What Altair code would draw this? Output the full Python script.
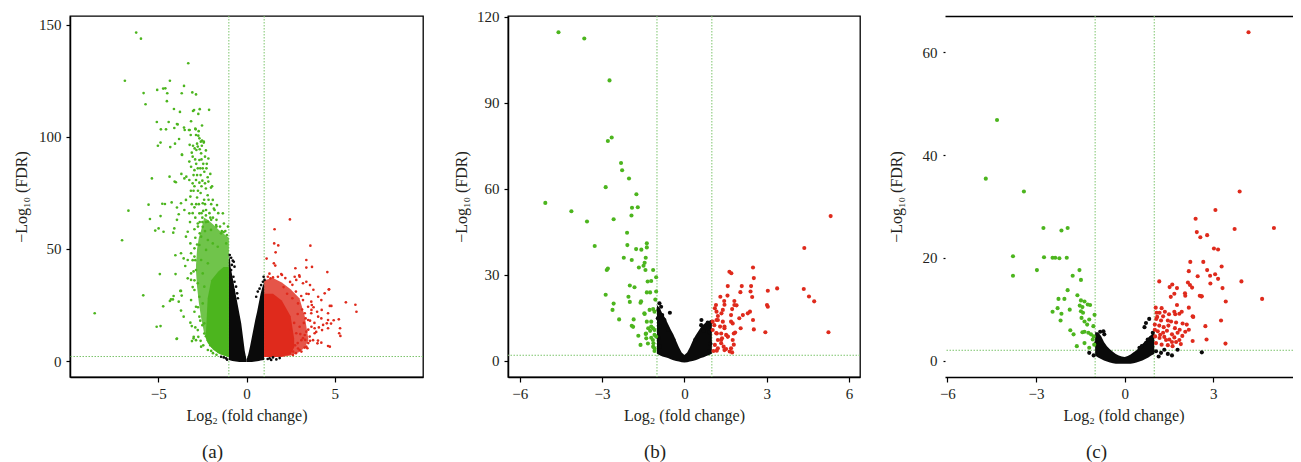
import altair as alt
import pandas as pd

FONT = "Liberation Serif"
GREEN, RED, BLACK = "#4cb51e", "#df2a1c", "#0a0a0a"
LINE = "#7cc46c"
TXT = "#231f20"

X_TITLE = "Log\u2082 (fold change)"
Y_TITLE = "\u2212Log\u2081\u2080 (FDR)"
VLINES = [-1, 1]
HLINE = [2]

# ---------------- panel (a) ----------------
A_DOWN = [(-6.25,146.6),(-5.98,143.9),(-3.30,132.9),(-6.89,125.1),(-4.34,125.1),(-3.54,122.8),(-5.06,121.0),(-4.72,121.6),(-4.60,121.7),(-5.83,119.6),(-3.07,119.9),(-2.86,119.0),(-4.49,119.5),(-3.67,119.5),(-4.51,116.0),(-5.72,114.6),(-2.65,112.4),(-4.11,112.5),(-3.77,111.2),(-3.03,111.6),(-2.97,112.0),(-2.73,110.3),(-2.12,112.1),(-5.08,106.7),(-4.41,106.7),(-3.14,107.0),(-3.94,105.8),(-4.85,103.4),(-4.56,103.4),(-4.09,104.0),(-3.54,104.2),(-3.26,103.1),(-2.88,103.4),(-2.52,105.1),(-3.16,100.9),(-2.73,100.6),(-4.87,97.5),(-5.02,96.1),(-4.05,97.0),(-4.32,95.5),(-3.66,92.1),(-3.90,105.6),(-3.50,103.1),(-3.22,103.1),(-2.90,103.7),(-2.71,102.6),(-2.86,100.9),(-2.67,99.4),(-2.59,97.9),(-2.52,98.4),(-2.42,97.9),(-3.82,99.1),(-3.22,96.5),(-3.03,96.1),(-2.94,94.9),(-2.84,94.2),(-2.76,95.7),(-2.65,94.5),(-2.53,96.1),(-2.42,97.5),(-3.65,92.0),(-3.24,89.0),(-3.05,91.2),(-2.91,90.0),(-2.67,89.7),(-2.57,92.7),(-2.35,91.2),(-2.16,90.4),(-3.14,86.7),(-2.95,85.2),(-2.76,86.0),(-2.48,86.0),(-2.39,84.5),(-2.27,86.0),(-2.05,83.5),(-5.36,81.5),(-4.36,82.3),(-4.07,80.1),(-4.00,79.8),(-3.69,83.5),(-3.52,81.5),(-3.41,82.3),(-3.24,80.8),(-3.05,79.3),(-2.86,80.8),(-2.67,79.6),(-2.50,80.5),(-2.35,79.3),(-2.16,80.1),(-2.01,77.4),
(-3.52,67.4),(-3.24,65.9),(-2.95,68.6),(-2.67,65.9),(-2.48,70.4),(-2.29,67.4),(-2.76,61.4),(-2.48,59.9),(-2.19,62.2),(-2.01,58.5),(-1.72,60.7),(-1.34,65.9),(-1.28,61.4),(-1.44,57.0),(-1.11,56.2),(-1.15,52.5),(-1.91,71.9),(-1.67,69.6),(-1.81,67.4),(-3.71,70.4),(-3.43,71.9),(-3.18,73.4),(-3.43,55.5),(-3.33,57.7),(-2.95,58.8),
(-3.0,76),(-2.8,73),(-2.6,75),(-2.4,72),(-2.2,74),(-2.0,70),(-3.1,70),(-2.9,64),(-2.5,64),(-2.3,62),(-2.1,66),(-1.9,64),(-1.7,63),(-1.5,60),(-1.4,58),(-3.2,62),(-2.7,70),(-2.3,77),(-2.6,83),(-2.85,88),(-2.45,88),(-3.0,83),(-2.2,82),(-1.95,78),
(-3.1,93),(-2.8,97),(-2.55,90),(-2.3,94),(-2.95,78),(-2.75,76),(-2.55,78),(-2.35,70),(-2.15,72),(-2.05,64),(-2.45,67),(-2.65,62),(-2.85,70),(-3.05,66),(-2.25,88),(-2.62,86),(-2.8,83),(-3.15,76),(-1.85,68),(-1.6,66),(-1.2,58),(-1.05,60),
(-5.55,69.8),(-4.77,70.2),(-4.62,70.1),(-4.24,70.8),(-6.69,67.1),(-5.47,63.4),(-4.87,64.7),(-5.17,58.2),(-4.98,59.2),(-4.70,57.7),(-3.94,68.5),(-3.84,65.5),(-7.05,53.9),(-4.03,47.2),(-4.91,38.8),(-4.02,38.8),(-5.85,29.3),(-3.71,31.3),(-4.17,27.5),(-4.34,26.8),(-4.72,24.4),(-3.84,26.5),(-8.60,21.3),(-5.09,15.3),(-4.87,15.6),(-3.96,9.8),(-3.09,8.9),(-3.00,10.1),(-3.18,17.1),(-4.15,57.3),(-4.09,59.2),(-3.94,63.0),(-4.28,27.5),(-4.13,29.0),(-3.75,31.3),(-3.67,29.2),(-3.94,10.0),(-3.56,19.8),(-3.71,22.5),(-3.10,15.6),(-2.99,10.8),(-2.86,9.3),(-2.73,10.8),(-3.33,36.9),(-3.14,39.1),(-3.47,42.4),(-3.71,48.1),(-3.56,45.8),(-3.33,45.1),(-3.14,48.1),(-2.95,50.3),(-3.18,52.5),
(-2.57,55.5),(-2.19,54.0),(-1.91,52.5),(-1.63,51.0),(-2.67,51.8),(-2.29,49.6),(-2.95,46.6),(-2.57,45.1),(-2.19,43.6),(-2.86,40.6),(-2.48,39.1),(-3.14,36.2),(-2.76,34.7),(-2.95,31.7),(-2.67,28.7),(-2.39,33.2),(-3.14,27.2),(-2.86,24.2),(-2.48,25.7),(-2.67,19.8),(-2.39,16.8),(-2.76,13.8),(-2.39,12.3),(-2.19,9.3),(-2.57,6.4),(-2.19,4.9),(-1.9,3.5),(-1.7,2.8),(-2.0,4.5),
(-2.95,22),(-2.9,15),(-2.6,9),(-2.45,7),(-3.05,33),(-3.0,40),(-3.05,45),(-2.9,55),(-2.75,60),(-2.55,66),(-2.35,58),
(-2.95,36),(-2.9,45),(-2.8,52),(-2.65,57),(-2.5,62),(-2.3,65),(-2.0,63),(-1.7,60),(-1.3,57.5),(-2.5,16),(-2.3,11),(-2.05,7),(-1.6,4.3),(-2.75,24),(-2.62,18)]

A_UP = [(2.46,63.2),(1.59,58.8),(1.57,52.5),(1.80,51.6),(3.62,51.5),(1.65,48.5),(1.14,45.7),(3.39,45.1),(1.55,43.6),(1.63,42.6),(2.77,41.4),(3.39,41.7),(3.71,42.0),(4.58,39.7),(2.01,38.4),(1.78,37.6),(1.21,37.6),(1.36,36.9),(2.99,38.2),(2.73,37.6),(1.50,37.3),(1.97,38.8),(2.47,35.3),(2.82,36.2),(3.01,37.6),(3.20,34.7),(3.39,35.4),(3.60,33.9),(3.79,31.8),(4.06,28.7),(4.24,27.2),(4.66,31.9),(4.43,30.2),(4.68,32.0),(5.63,26.2),(6.17,25.1),(6.23,22.0),(4.72,24.6),(4.81,24.6),(4.26,22.8),(4.62,21.3),(5.23,18.6),(5.30,14.6),(5.25,12.4),(5.32,11.2),(4.62,18.3),(4.55,16.8),(4.28,13.8),(4.94,18.2),(4.79,16.7),(4.62,14.6),(4.05,9.1),(4.24,8.2),(4.72,6.4),(3.77,9.3),(4.02,7.9),(4.62,6.7),(3.86,14.6),(4.34,16.1),(4.24,19.0),(3.67,21.3),(3.67,26.5),(3.52,29.9),(3.49,18.3),(3.68,15.3),(3.86,12.4),(3.30,11.6),(4.06,19.8),(3.11,9.3),(3.39,6.4),(2.92,5.6),(2.64,4.2),(2.45,3.4),(3.11,4.2),(3.20,27.2),(3.49,24.2),(3.30,21.3),(3.68,22.8),(2.92,25.7),(3.01,15.3),(3.39,13.1),(2.82,12.4),(3.20,10.2),(3.58,10.9),(2.63,2.7),(2.31,3.4),(3.01,4.9),(3.45,5.7),(3.33,9.4),
(2.1,33),(2.3,30),(2.6,28),(2.8,31),(3.1,29),(2.9,21),(2.7,17),(2.5,14),(2.9,8),(3.6,18),(3.8,24),(4.0,22),(4.1,15),(3.5,14),(3.25,17),
(3.7,25),(3.85,17),(3.95,13),(3.6,9),(3.3,6),(2.8,3.5),(2.2,37),(1.3,39),(2.6,34),(3.4,30),(3.15,23),(3.35,19),(3.05,12),(2.75,7),(3.5,8)]

A_NS = [(-0.95,47.3),(-0.87,46.1),(-0.78,44.8),(-0.83,42.9),(-0.72,44.3),(-0.68,42.1),(-0.87,40.6),(-0.74,37.6),(-0.68,35.4),(-0.59,33.2),(-0.72,31.7),(-0.53,30.2),(-0.49,28.0),(1.02,36.2),(0.93,35.4),(0.83,33.9),(0.74,32.3),(0.97,37.6),(0.64,31.0),(0.55,28.7),(1.31,1.2),(1.50,1.6),(1.69,0.7),(1.88,1.3),(1.2,0.9),(1.4,0.5),(-1.29,1.6),(-1.16,1.2),(-1.44,1.9),(-1.1,0.6)]

# dense cores of panel (a): x, upper edge, lower edge
A_BLK_L_X = [-1.0,-0.95,-0.9,-0.8,-0.7,-0.6,-0.5,-0.4,-0.3,-0.2,-0.1,0.0]
A_BLK_L_T = [45,47,42,37.8,33.6,29.4,25.2,21,16.8,10.7,4.6,0.6]
A_BLK_L_B = [0.4,0.3,0.2,0.0,-0.1,-0.2,-0.3,-0.4,-0.5,-0.5,-0.5,-0.5]
A_BLK_R_X = [0.0,0.1,0.2,0.3,0.4,0.5,0.6,0.7,0.8,0.9,1.0]
A_BLK_R_T = [0.6,3,6.5,10.5,14.5,18.5,22,26,30,33,35]
A_BLK_R_B = [-0.5,-0.5,-0.5,-0.4,-0.3,-0.2,-0.1,0.0,0.2,0.3,0.4]
A_GRN_MID_X = [-2.86,-2.8,-2.7,-2.58,-2.4,-2.2,-1.9,-1.5,-1.0]
A_GRN_MID_T = [43,50,55,58,64,63,61,58,55]
A_GRN_MID_B = [40,33,26,19.8,12.4,9,5,3,1.8]
A_GRN_CORE_X = [-2.3,-2.2,-2.0,-1.6,-1.3,-1.0]
A_GRN_CORE_T = [12,28,36,40,42,42]
A_GRN_CORE_B = [10,8,6,3.5,2.5,1.8]
A_RED_MID_X = [1.0,1.5,2.0,2.5,3.0,3.3,3.5]
A_RED_MID_T = [36,37,35,32,28,20,10]
A_RED_MID_B = [1.8,1.8,1.8,2.5,4,6,9]
A_RED_CORE_X = [1.0,1.5,2.0,2.5,2.7]
A_RED_CORE_T = [30,30,27,20,10]
A_RED_CORE_B = [1.8,1.8,2,3,6]

# ---------------- panel (b) ----------------
B_DOWN = [(-4.59,114.6),(-3.65,112.4),(-2.73,97.8),(-2.79,76.7),(-2.65,77.9),(-2.31,69.0),(-2.27,66.5),(-2.02,63.6),(-2.87,60.6),(-1.75,58.1),(-5.07,55.1),(-1.91,53.4),(-1.70,53.6),(-1.93,50.7),(-4.12,52.2),(-3.55,48.6),(-2.58,49.4),(-2.09,44.7),(-3.27,40.1),(-2.08,40.4),(-1.37,41.0),(-1.37,39.6),(-1.76,39.0),(-1.57,38.8),(-2.21,36.0),(-1.41,36.0),(-1.92,35.2),(-1.45,34.2),(-1.49,33.2),(-1.66,32.6),(-1.14,31.7),(-1.42,31.7),(-2.83,31.7),(-2.79,32.2),(-1.03,29.2),(-1.34,27.7),(-1.21,27.9),(-1.99,26.3),(-1.82,25.7),(-1.37,23.9),(-1.25,23.9),(-1.03,24.2),(-2.87,23.1),(-2.04,22.4),(-1.99,20.6),(-1.60,20.3),(-1.58,20.8),(-2.58,20.0),(-1.06,21.4),(-2.62,17.8),(-1.45,16.4),(-1.14,18.1),(-1.09,17.2),(-1.85,14.5),(-2.38,14.5),(-1.37,13.7),(-1.21,13.7),(-1.92,12.3),(-1.87,11.9),(-1.32,11.4),(-1.25,10.5),(-1.14,11.4),(-1.68,8.8),(-1.41,9.4),(-1.39,7.9),(-1.21,8.1),(-1.09,9.1),(-1.60,5.6),(-1.14,5.0),(-1.09,3.5),(-1.13,6.2),(-1.46,16.6),(-1.27,17.8),(-1.21,12.0),(-1.40,9.6),(-1.09,10.8),(-1.15,7.3),(-1.33,6.1),(-1.09,4.4),(-1.03,8.5)]

B_UP = [(5.33,50.5),(4.37,39.4),(2.50,32.6),(4.35,25.1),(3.38,25.3),(4.54,22.5),(4.73,20.8),(5.25,10.0),(2.95,10.0),(1.64,31.1),(1.71,30.6),(2.53,28.9),(3.04,24.5),(1.58,26.1),(2.09,26.1),(2.43,26.1),(2.41,24.2),(2.04,24.0),(2.47,22.3),(1.57,22.8),(1.31,22.4),(1.45,20.9),(1.46,19.6),(1.82,20.9),(1.90,19.4),(3.01,19.5),(3.04,18.9),(1.15,19.5),(1.11,18.4),(1.17,17.2),(1.74,18.1),(2.39,17.2),(2.31,16.6),(2.13,16.0),(1.35,16.6),(1.22,15.7),(1.70,16.0),(2.00,14.9),(2.50,14.3),(1.40,13.7),(1.17,14.3),(1.03,13.7),(1.70,13.7),(2.05,11.4),(2.53,11.0),(1.09,12.5),(1.30,12.0),(1.46,11.4),(1.80,9.6),(1.85,9.9),(1.03,10.8),(1.18,9.6),(1.34,9.6),(1.52,9.1),(1.37,7.9),(1.58,8.5),(1.22,7.3),(1.76,7.3),(1.80,5.7),(1.34,6.2),(1.11,5.6),(1.52,4.2),(1.65,3.3),(1.74,3.0),(1.18,3.6),(1.06,3.5),(1.43,5.0),(1.40,17.8),(1.22,14.3),(1.46,12.0),(1.16,9.7),(1.34,7.3),(1.58,8.5),(1.22,4.4),(1.46,3.8),(1.82,19.5),(1.76,13.1),(1.70,4.4)]

B_NS = [(-0.91,20.1),(-0.85,18.9),(-0.95,17.8),(-0.53,16.8),(-0.81,16.0),(-0.97,14.9),(-0.73,14.3),(0.62,14.3),(0.85,13.4),(0.92,13.1),(0.97,13.6),(0.61,12.5),(-0.9,12),(-0.95,8),(-0.9,5),(-0.6,11),(-0.4,7.5),(0.4,7.5),(0.7,10.5),(0.9,10),(0.95,6),(0.9,3.5)]

B_BLK_X = [-1.0,-0.9,-0.8,-0.7,-0.6,-0.5,-0.4,-0.3,-0.2,-0.1,0.0,0.1,0.2,0.3,0.4,0.5,0.6,0.7,0.8,0.9,1.0]
B_BLK_T = [19.5,18.5,16.5,15,13,11,9.2,7,4.8,3,2.1,3,4.8,7,8.8,10.3,11.8,12.8,13.5,13.7,13.5]
B_BLK_B = [2.5,2,1.6,1.3,1,0.6,0.3,0,-0.2,-0.4,-0.5,-0.4,-0.2,0,0.3,0.6,1,1.3,1.7,2.1,2.5]

# ---------------- panel (c) ----------------
C_DOWN = [(-4.32,46.8),(-4.70,35.4),(-3.41,32.9),(-2.75,25.8),(-2.14,25.3),(-1.93,25.8),(-3.78,20.3),(-2.73,20.1),(-2.44,20.0),(-2.35,20.0),(-2.21,19.9),(-1.96,20.0),(-3.78,16.5),(-2.97,17.6),(-1.53,17.6),(-1.76,16.5),(-1.48,15.7),(-1.93,13.7),(-1.60,12.7),(-2.24,12.0),(-2.04,12.0),(-1.48,11.7),(-1.36,11.5),(-1.25,10.9),(-1.17,10.8),(-1.52,10.7),(-1.43,10.4),(-1.48,9.6),(-1.41,9.3),(-2.27,10.2),(-1.86,9.9),(-2.44,9.5),(-2.14,9.1),(-2.17,7.8),(-1.02,8.9),(-1.46,8.3),(-1.36,7.6),(-1.20,8.0),(-1.27,7.0),(-1.06,6.7),(-1.84,5.9),(-1.73,5.1),(-1.43,5.5),(-1.36,5.6),(-1.23,5.4),(-1.14,5.1),(-1.05,4.7),(-1.62,2.8),(-1.36,3.4),(-1.20,2.5),(-1.08,4.1),(-1.03,3.1)]

C_UP = [(4.19,63.9),(3.89,32.9),(3.07,29.3),(2.40,27.6),(3.72,25.6),(5.05,25.8),(2.44,25.0),(2.56,24.0),(2.79,24.4),(3.02,21.8),(3.16,21.6),(2.22,19.2),(2.66,19.2),(3.28,18.3),(2.17,17.4),(2.79,17.6),(3.06,16.8),(2.47,16.4),(2.89,16.5),(3.16,15.9),(3.95,15.4),(1.17,15.4),(2.14,15.2),(2.21,14.7),(2.28,14.2),(2.90,15.0),(1.61,14.8),(1.52,14.3),(3.31,14.1),(1.77,14.1),(1.68,13.0),(1.56,12.4),(2.04,13.1),(2.05,12.6),(2.54,12.6),(2.59,12.5),(4.65,12.0),(3.42,11.5),(1.77,10.8),(2.17,10.3),(1.08,9.3),(1.18,9.3),(1.36,9.5),(1.68,9.5),(1.85,9.1),(1.93,9.5),(2.30,8.6),(1.07,8.1),(1.23,7.8),(1.46,7.8),(1.57,7.6),(1.74,7.4),(1.96,7.2),(3.26,7.8),(2.73,6.7),(1.02,7.0),(1.17,6.8),(1.32,6.5),(1.48,6.8),(1.70,6.3),(1.86,6.0),(2.17,6.0),(1.02,6.0),(1.12,5.7),(1.30,5.4),(1.43,5.8),(1.60,5.1),(1.79,5.4),(2.05,5.6),(1.03,4.7),(1.18,4.4),(1.34,4.6),(1.51,4.1),(1.68,4.5),(1.85,4.0),(2.30,3.8),(2.77,4.1),(3.41,3.3),(1.06,3.4),(1.25,3.1),(1.46,3.0),(1.62,2.8),(1.74,3.6),(1.71,9.0),(2.32,8.5),(2.61,12.5),(1.1,8.5),(1.3,8.6),(1.5,9.0),(1.2,5.0),(1.4,4.0),(1.6,3.6),(1.9,3.2),(1.95,4.8),(2.1,7.0),(1.25,10.2),(1.05,10.3)]

C_NS = [(-0.83,5.6),(-0.72,5.7),(-0.91,4.1),(0.83,8.1),(0.67,6.5),(2.61,1.6),(1.79,2.1),(1.46,1.3),(1.34,2.1),(1.23,1.5),(1.06,1.8),(0.50,2.5),(0.58,2.8),(0.72,3.4),(0.78,4.1),(0.89,4.4),(0.95,5.4),(-0.69,5.1),(-0.97,3.4),(-0.80,2.8),(0.72,7.3),(-1.2,1.5),(-1.05,1.0),(1.15,0.8),(1.6,1.0)]

C_BLK_X = [-1.0,-0.9,-0.8,-0.7,-0.6,-0.5,-0.4,-0.3,-0.2,-0.1,0.0,0.1,0.2,0.3,0.4,0.5,0.6,0.7,0.8,0.9,1.0]
C_BLK_T = [5.5,5.5,4.8,3.6,2.8,2.2,1.7,1.3,1.0,0.8,0.7,0.9,1.2,1.6,2.0,2.6,3.2,3.8,4.5,5.0,5.5]
C_BLK_B = [1.0,0.6,0.3,0.0,-0.2,-0.4,-0.5,-0.6,-0.6,-0.6,-0.6,-0.6,-0.6,-0.5,-0.4,-0.2,0.0,0.3,0.6,1.0,1.3]


CLS = alt.Scale(domain=["down", "ns", "up"], range=[GREEN, BLACK, RED])


def pts_df(down, ns, up):
    rows = []
    for cls, arr in (("ns", ns), ("down", down), ("up", up)):
        for x, y in arr:
            rows.append({"x": x, "y": y, "cls": cls})
    return pd.DataFrame(rows)


def area_df(regions):
    rows = []
    for reg, cls, xs, tops, bots in regions:
        for x, t, b in zip(xs, tops, bots):
            rows.append({"reg": reg, "cls": cls, "x": x, "top": t, "bot": b})
    return pd.DataFrame(rows)


def panel(down, ns, up, mid, core, xdom, ydom, xvals, yvals, w, size, label, dx, title_x, boxed):
    xs = alt.Scale(domain=xdom, nice=False, zero=False)
    ys = alt.Scale(domain=ydom, nice=False, zero=False)
    rule_style = dict(color=LINE, strokeDash=[1.5, 1.5], strokeWidth=1)
    xaxis = alt.Axis(values=xvals, title=X_TITLE, orient="bottom", domain=True, domainColor="black",
                     domainWidth=1.5, ticks=True, tickSize=5, tickColor="black", tickWidth=1.2,
                     labelPadding=4, labelFlush=False, titlePadding=6, grid=False)
    if boxed:
        yaxis = alt.Axis(values=yvals, title=Y_TITLE, domain=True, domainColor="black", domainWidth=1.5,
                         ticks=True, tickSize=4, tickColor="black", tickWidth=1.2, labelPadding=5,
                         titleX=title_x, titleBaseline="middle", grid=False)
        vl_axis = xaxis
        area_xaxis = xaxis
    else:
        yaxis = alt.Axis(values=yvals, title=Y_TITLE, domain=False, ticks=True, tickSize=2,
                         tickColor="black", tickWidth=1.2, labelPadding=6,
                         titleX=title_x, titleBaseline="middle", grid=False)
        vl_axis = alt.Axis(orient="top", labels=False, ticks=False, domain=True, domainColor="black",
                           domainWidth=1.5, title=None, grid=False)
        area_xaxis = None

    def area_layer(regions, opacity):
        return alt.Chart(area_df(regions)).mark_area(opacity=opacity, interpolate="linear").encode(
            x=alt.X("x:Q", scale=xs, axis=area_xaxis),
            y=alt.Y("top:Q", scale=ys, axis=yaxis),
            y2="bot:Q",
            color=alt.Color("cls:N", scale=CLS, legend=None),
            detail="reg:N",
        )

    vl = alt.Chart(pd.DataFrame({"x": VLINES})).mark_rule(**rule_style).encode(
        x=alt.X("x:Q", scale=xs, axis=vl_axis))
    hl = alt.Chart(pd.DataFrame({"y": HLINE})).mark_rule(**rule_style).encode(
        y=alt.Y("y:Q", scale=ys, axis=yaxis))
    layers = [vl, hl]
    if mid:
        layers.append(area_layer(mid, 0.8))
    layers.append(area_layer(core, 1.0))
    pts = alt.Chart(pts_df(down, ns, up)).mark_circle(size=size, opacity=1).encode(
        x=alt.X("x:Q", scale=xs, axis=xaxis),
        y=alt.Y("y:Q", scale=ys, axis=yaxis),
        color=alt.Color("cls:N", scale=CLS, legend=None),
    )
    layers.append(pts)
    view = (alt.ViewBackground(stroke="black", strokeWidth=1.3) if boxed
            else alt.ViewBackground(stroke="transparent"))
    ch = alt.layer(*layers).properties(
        width=w, height=361, view=view,
        title=alt.TitleParams(text=label, orient="bottom", anchor="middle", frame="group",
                              dx=dx, offset=20),
    )
    if not boxed:
        ch = ch.resolve_axis(x="independent")
    return ch


A = panel(A_DOWN, A_NS, A_UP,
          [("gm", "down", A_GRN_MID_X, A_GRN_MID_T, A_GRN_MID_B),
           ("rm", "up", A_RED_MID_X, A_RED_MID_T, A_RED_MID_B)],
          [("bl", "ns", A_BLK_L_X, A_BLK_L_T, A_BLK_L_B),
           ("br", "ns", A_BLK_R_X, A_BLK_R_T, A_BLK_R_B),
           ("gc", "down", A_GRN_CORE_X, A_GRN_CORE_T, A_GRN_CORE_B),
           ("rc", "up", A_RED_CORE_X, A_RED_CORE_T, A_RED_CORE_B)],
          [-10, 10], [-7.14, 154], [-5, 0, 5], [0, 50, 100, 150], 353, 7, "(a)", -34, -49, True)

B = panel(B_DOWN, B_NS, B_UP, None,
          [("b", "ns", B_BLK_X, B_BLK_T, B_BLK_B)],
          [-6.43, 6.4], [-5.58, 120.25], [-6, -3, 0, 3, 6], [0, 30, 60, 90, 120], 352, 17, "(b)", -29, -47, True)

C = panel(C_DOWN, C_NS, C_UP, None,
          [("c", "ns", C_BLK_X, C_BLK_T, C_BLK_B)],
          [-6.08, 6.0], [-3.2, 67.05], [-6, -3, 0, 3, 6], [0, 20, 40, 60], 357, 17, "(c)", -27, -49, False)

chart = alt.hconcat(A, B, C, spacing=85, bounds="flush").properties(
    padding={"left": 4, "top": 1, "right": -14, "bottom": 0}
).configure_axis(
    labelFont=FONT, titleFont=FONT, labelFontSize=15, titleFontSize=16,
    labelColor=TXT, titleColor=TXT, titleFontWeight="normal",
).configure_title(
    font=FONT, fontSize=19, color=TXT, fontWeight="normal"
).configure_view(stroke="black")

chart.save("out.html", embed_options={"renderer": "svg", "actions": False})
